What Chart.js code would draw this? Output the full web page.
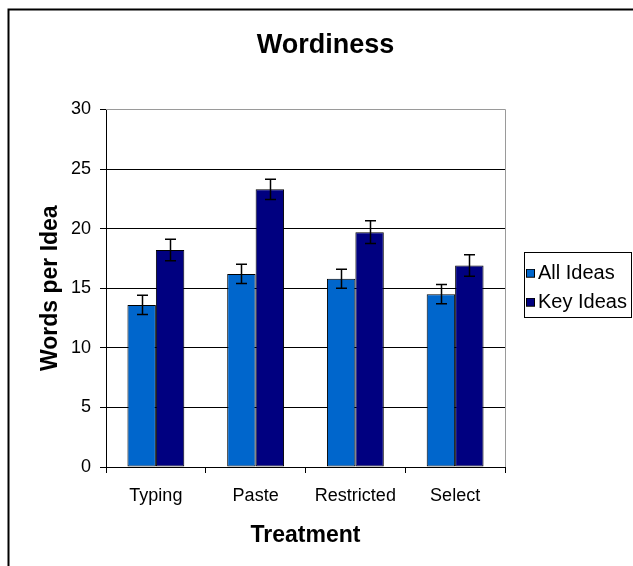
<!DOCTYPE html>
<html>
<head>
<meta charset="utf-8">
<script src="https://cdn.jsdelivr.net/npm/chart.js@4.4.1/dist/chart.umd.min.js"></script>
<style>
html,body{margin:0;padding:0;background:#fff;}
#wrap{width:633px;height:566px;position:relative;}
</style>
</head>
<body>
<div id="wrap"><canvas id="c" width="633" height="566"></canvas></div>
<script>
const categories = ['Typing', 'Paste', 'Restricted', 'Select'];
const allIdeas = [13.6, 16.2, 15.8, 14.5];
const keyIdeas = [18.2, 23.3, 19.7, 16.9];
const allIdeasErr = [0.8, 0.8, 0.8, 0.8];
const keyIdeasErr = [0.9, 0.85, 0.95, 0.9];
const yTicks = [0, 5, 10, 15, 20, 25, 30];
const seriesNames = ['All Ideas', 'Key Ideas'];
const seriesColors = ['#0066CC', '#000080'];

const FONT = "'Liberation Sans', Arial, Helvetica, sans-serif";

// legend swatch images (square sits in the right part so the label follows closely)
function makeSwatch(color) {
  const c = document.createElement('canvas');
  c.width = 18; c.height = 10;
  const g = c.getContext('2d');
  g.fillStyle = color;
  g.fillRect(8, 0, 9, 9);
  g.strokeStyle = '#000';
  g.lineWidth = 1;
  g.strokeRect(8.5, 0.5, 8, 8);
  return c;
}
const swatches = seriesColors.map(makeSwatch);

const frame = {
  id: 'frame',
  afterInit(chart) {
    const lg = chart.legend;
    if (lg) {
      const f = lg.fit.bind(lg);
      lg.fit = function () { f(); this.width = 128; };
    }
  },
  afterLayout(chart) {
    const lg = chart.legend;
    if (lg) { lg.left += 12; lg.right += 12; }
  },
  beforeDraw(chart) {
    const ctx = chart.ctx;
    ctx.save();
    ctx.fillStyle = '#fff';
    ctx.fillRect(0, 0, chart.width, chart.height);
    ctx.strokeStyle = '#000';
    ctx.lineWidth = 2;
    ctx.beginPath();
    ctx.moveTo(8.5, chart.height + 2);
    ctx.lineTo(8.5, 9.5);
    ctx.lineTo(chart.width + 2, 9.5);
    ctx.stroke();
    ctx.restore();
  },
  afterDraw(chart) {
    const ctx = chart.ctx;
    const a = chart.chartArea;
    ctx.save();
    ctx.strokeStyle = '#9a9a9a';
    ctx.lineWidth = 1;
    ctx.beginPath();
    ctx.moveTo(Math.round(a.left), Math.round(a.top) + 0.5);
    ctx.lineTo(Math.round(a.right) + 0.5, Math.round(a.top) + 0.5);
    ctx.lineTo(Math.round(a.right) + 0.5, Math.round(a.bottom));
    ctx.stroke();
    const lg = chart.legend;
    if (lg && lg.legendHitBoxes && lg.legendHitBoxes.length) {
      const hb = lg.legendHitBoxes;
      let x0 = Infinity, x1 = -Infinity;
      hb.forEach(h => { x0 = Math.min(x0, h.left); x1 = Math.max(x1, h.left + h.width); });
      const yTop = hb[0].top + hb[0].height / 2 - 21.5;
      const last = hb[hb.length - 1];
      const yBot = last.top + last.height / 2 + 14;
      ctx.strokeStyle = '#000';
      ctx.lineWidth = 1;
      ctx.strokeRect(Math.round(x0 - 2) + 0.5, Math.round(yTop) + 0.5, Math.round(x1 - x0 + 6), Math.round(yBot - yTop));
    }
    ctx.restore();
  }
};

const errorBars = {
  id: 'errorBars',
  afterDatasetsDraw(chart) {
    const ctx = chart.ctx;
    const y = chart.scales.y;
    const errs = [allIdeasErr, keyIdeasErr];
    ctx.save();
    ctx.strokeStyle = '#000';
    ctx.lineWidth = 1.5;
    chart.data.datasets.forEach((ds, di) => {
      const meta = chart.getDatasetMeta(di);
      meta.data.forEach((bar, i) => {
        const v = ds.data[i];
        const e = errs[di][i];
        const yt = y.getPixelForValue(v + e);
        const yb = y.getPixelForValue(v - e);
        const x = Math.round(bar.x) + 0.5;
        const w = 5.5;
        ctx.beginPath();
        ctx.moveTo(x, yt); ctx.lineTo(x, yb);
        ctx.moveTo(x - w, yt); ctx.lineTo(x + w, yt);
        ctx.moveTo(x - w, yb); ctx.lineTo(x + w, yb);
        ctx.stroke();
      });
    });
    ctx.restore();
  }
};

new Chart(document.getElementById('c'), {
  type: 'bar',
  data: {
    labels: categories,
    datasets: [
      { label: seriesNames[0], data: allIdeas, backgroundColor: seriesColors[0], borderColor: '#000', borderWidth: 1, borderSkipped: false, categoryPercentage: 0.57, barPercentage: 1 },
      { label: seriesNames[1], data: keyIdeas, backgroundColor: seriesColors[1], borderColor: '#000', borderWidth: 1, borderSkipped: false, categoryPercentage: 0.57, barPercentage: 1 }
    ]
  },
  options: {
    responsive: false,
    animation: false,
    devicePixelRatio: 1,
    layout: { padding: { left: 18, right: 0, top: 12, bottom: 8 } },
    plugins: {
      title: {
        display: true, text: 'Wordiness', color: '#000',
        font: { family: FONT, size: 27, weight: 'bold' },
        padding: { top: 17, bottom: 48 }
      },
      legend: {
        position: 'right',
        fullSize: false,
        labels: {
          color: '#000', boxWidth: 2, pointStyleWidth: 2, padding: 9, usePointStyle: true,
          font: { family: FONT, size: 20 },
          generateLabels(chart) {
            const items = Chart.defaults.plugins.legend.labels.generateLabels(chart);
            items.forEach((it, i) => { it.pointStyle = swatches[i]; });
            return items;
          }
        }
      },
      tooltip: { enabled: false }
    },
    scales: {
      x: {
        afterFit(scale) { scale.height = 91; },
        grid: { display: true, drawOnChartArea: false, drawTicks: true, tickLength: 6, offset: true, color: '#000' },
        border: { color: '#000', width: 1 },
        ticks: { color: '#000', padding: 12, font: { family: FONT, size: 18 } },
        title: { display: true, text: 'Treatment', color: '#000', font: { family: FONT, size: 23, weight: 'bold' }, padding: { top: 10, bottom: 9 } }
      },
      y: {
        min: 0, max: 30,
        afterFit(scale) { scale.width = 88; },
        afterBuildTicks(scale) { scale.ticks = yTicks.map(v => ({ value: v })); },
        grid: {
          color: ctx => (ctx.tick && ctx.tick.value === 30) ? '#9a9a9a' : '#000',
          tickColor: '#000', tickLength: 6, lineWidth: 1
        },
        border: { color: '#000', width: 1 },
        ticks: { color: '#000', padding: 9, font: { family: FONT, size: 18 } },
        title: { display: true, text: 'Words per Idea', color: '#000', font: { family: FONT, size: 23, weight: 'bold' }, padding: { top: 19, bottom: 0 } }
      }
    }
  },
  plugins: [frame, errorBars]
});
</script>
</body>
</html>
